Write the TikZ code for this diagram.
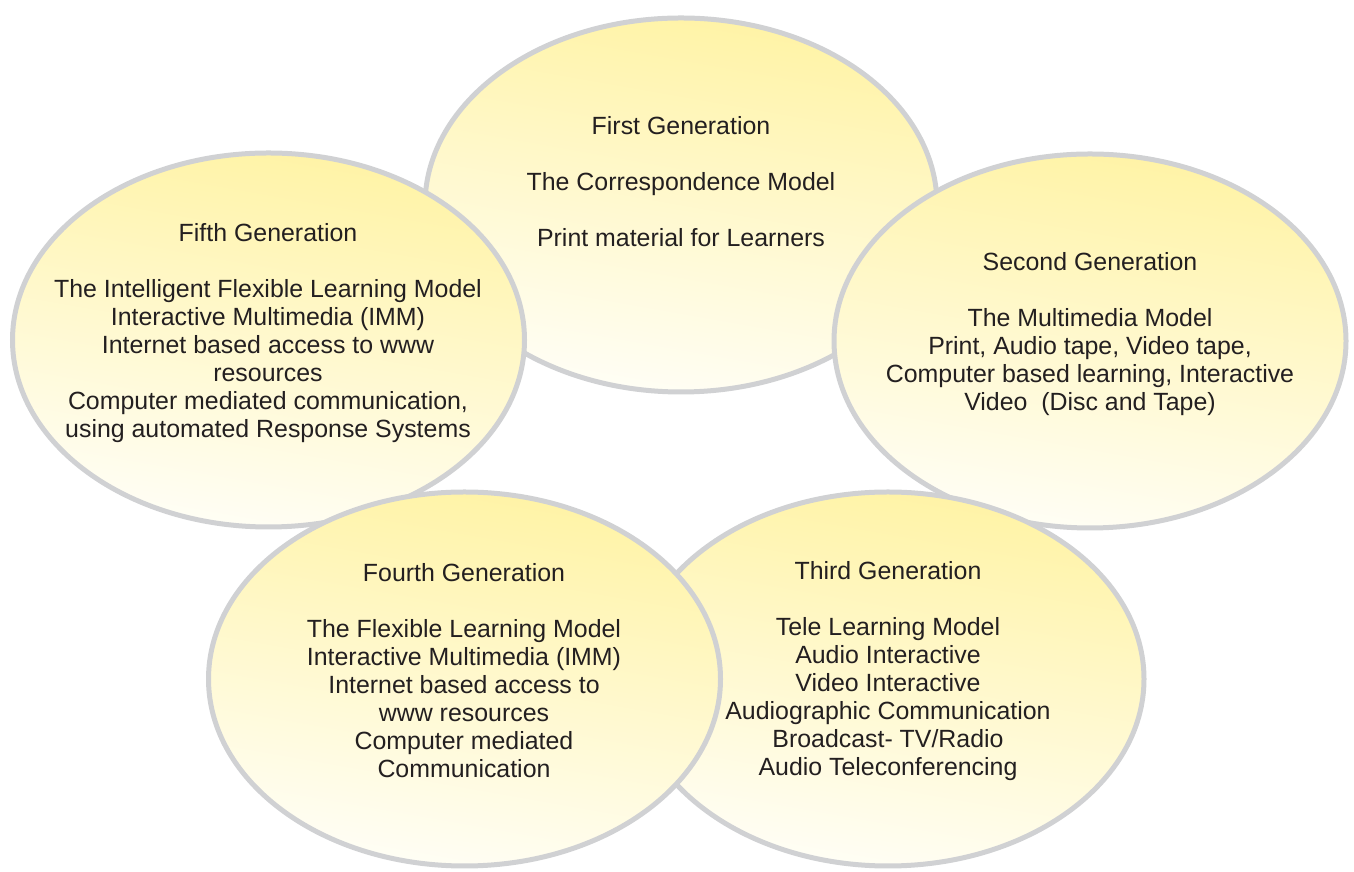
\documentclass[tikz,border=0pt]{standalone}
\usepackage{fontspec}
\setmainfont{Liberation Sans}
\definecolor{ylw}{RGB}{255,243,165}
\definecolor{pale}{RGB}{255,254,246}
\definecolor{rim}{RGB}{208,209,211}
\definecolor{ink}{RGB}{35,31,32}
\tikzset{
  gen/.style={draw=rim, line width=5pt, top color=ylw, bottom color=pale, shading angle=-10},
  gtext/.style={align=center, text=ink, font=\fontsize{24.9}{28}\selectfont, inner sep=0pt}
}
\begin{document}
\begin{tikzpicture}[x=1pt,y=1pt]
\useasboundingbox (0,0) rectangle (1354,872);
% ellipses (drawing order = stacking)
\path[gen] (681,667) ellipse [x radius=256, y radius=187];
\path[gen] (1090,531) ellipse [x radius=256, y radius=187];
\path[gen] (888,193) ellipse [x radius=256, y radius=187];
\path[gen] (268.5,532) ellipse [x radius=256, y radius=187];
\path[gen] (464.5,193) ellipse [x radius=256, y radius=187];
% texts
\node[gtext] (first) at (681,690) {First Generation\\[28pt]The Correspondence Model\\[28pt]Print material for Learners};
\node[gtext] (second) at (1090,538) {Second Generation\\[28pt]The Multimedia Model\\Print, Audio tape, Video tape,\\Computer based learning, Interactive\\Video\ \ (Disc and Tape)};
\node[gtext] (third) at (888,201) {Third Generation\\[28pt]Tele Learning Model\\Audio Interactive\\Video Interactive\\Audiographic Communication\\Broadcast- TV/Radio\\Audio Teleconferencing};
\node[gtext] (fourth) at (464,201) {Fourth Generation\\[28pt]The Flexible Learning Model\\Interactive Multimedia (IMM)\\Internet based access to\\www resources\\Computer mediated\\Communication};
\node[gtext] (fifth) at (268,539) {Fifth Generation\\[28pt]The Intelligent Flexible Learning Model\\Interactive Multimedia (IMM)\\Internet based access to www\\resources\\Computer mediated communication,\\using automated Response Systems};
\end{tikzpicture}
\end{document}
